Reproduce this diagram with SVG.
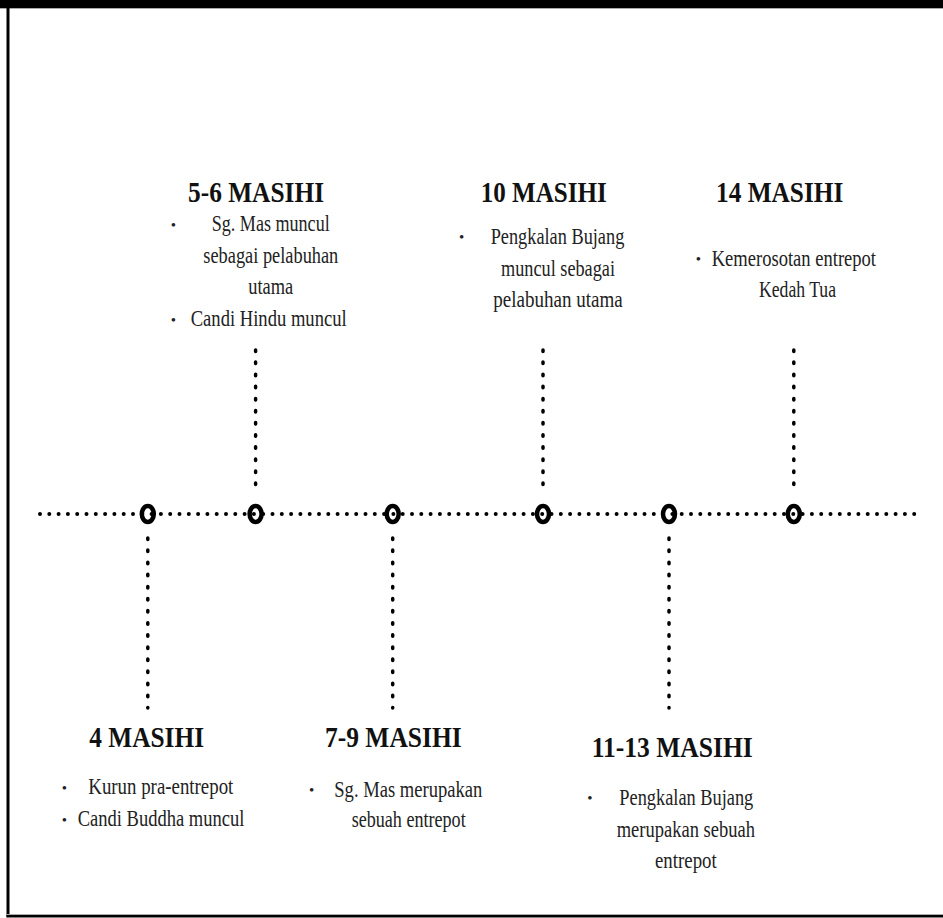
<svg xmlns="http://www.w3.org/2000/svg" width="943" height="918" viewBox="0 0 943 918">
<style>
.h{font-family:"Liberation Serif","Times New Roman",serif;font-weight:bold;font-size:30px;fill:#111}
.t{font-family:"Liberation Serif","Times New Roman",serif;font-size:24px;fill:#222}
.b{font-family:"Liberation Serif","Times New Roman",serif;font-size:15px;fill:#222;text-anchor:middle}
.hl{stroke:#000;stroke-width:4;stroke-linecap:round;stroke-dasharray:0 9.3;fill:none}
.vl{stroke:#000;stroke-width:3.5;stroke-linecap:round;stroke-dasharray:1.5 10.6;fill:none}
.ring{fill:none;stroke:#000;stroke-width:4.5}
</style>
<rect x="0" y="0" width="943" height="918" fill="#fff"/>
<rect x="0" y="0" width="943" height="8" fill="#000"/>
<rect x="0" y="8" width="943" height="1" fill="#aaa"/>
<rect x="6.5" y="0" width="3" height="917" fill="#000"/>
<rect x="6.5" y="914" width="936.5" height="1" fill="#aaa"/>
<rect x="6.5" y="915" width="936.5" height="2.5" fill="#000"/>
<g id="connectors">
<line class="hl" x1="40" y1="514" x2="922" y2="514"/>
<line class="vl" x1="255.6" y1="350" x2="255.6" y2="495"/>
<line class="vl" x1="543" y1="350" x2="543" y2="495"/>
<line class="vl" x1="793.8" y1="350" x2="793.8" y2="495"/>
<line class="vl" x1="147.8" y1="538" x2="147.8" y2="708"/>
<line class="vl" x1="392.7" y1="538" x2="392.7" y2="708"/>
<line class="vl" x1="669" y1="538" x2="669" y2="708"/>
</g>
<g id="markers">
<ellipse class="ring" cx="147.8" cy="514" rx="6" ry="8"/>
<ellipse class="ring" cx="255.6" cy="514" rx="6" ry="8"/>
<ellipse class="ring" cx="392.7" cy="514" rx="6" ry="8"/>
<ellipse class="ring" cx="543" cy="514" rx="6" ry="8"/>
<ellipse class="ring" cx="669" cy="514" rx="6" ry="8"/>
<ellipse class="ring" cx="793.8" cy="514" rx="6" ry="8"/>
</g>
<g id="node-5-6">
<text class="h" x="188" y="202" textLength="136" lengthAdjust="spacingAndGlyphs">5-6 MASIHI</text>
<text class="b" x="173.5" y="230">•</text>
<text class="t" x="211.7" y="231" textLength="118" lengthAdjust="spacingAndGlyphs">Sg. Mas muncul</text>
<text class="t" x="203.3" y="262.5" textLength="135" lengthAdjust="spacingAndGlyphs">sebagai pelabuhan</text>
<text class="t" x="248.3" y="294" textLength="45" lengthAdjust="spacingAndGlyphs">utama</text>
<text class="b" x="173.5" y="325">•</text>
<text class="t" x="190.7" y="326" textLength="156" lengthAdjust="spacingAndGlyphs">Candi Hindu muncul</text>
</g>
<g id="node-10">
<text class="h" x="480.7" y="202" textLength="126" lengthAdjust="spacingAndGlyphs">10 MASIHI</text>
<text class="b" x="461.7" y="242">•</text>
<text class="t" x="490.7" y="244" textLength="133.6" lengthAdjust="spacingAndGlyphs">Pengkalan Bujang</text>
<text class="t" x="501" y="275.5" textLength="114" lengthAdjust="spacingAndGlyphs">muncul sebagai</text>
<text class="t" x="493.3" y="307" textLength="129.4" lengthAdjust="spacingAndGlyphs">pelabuhan utama</text>
</g>
<g id="node-14">
<text class="h" x="716" y="202" textLength="127.3" lengthAdjust="spacingAndGlyphs">14 MASIHI</text>
<text class="b" x="698.3" y="264">•</text>
<text class="t" x="711.7" y="266" textLength="164.3" lengthAdjust="spacingAndGlyphs">Kemerosotan entrepot</text>
<text class="t" x="759" y="297" textLength="77" lengthAdjust="spacingAndGlyphs">Kedah Tua</text>
</g>
<g id="node-4">
<text class="h" x="89.3" y="747" textLength="114.7" lengthAdjust="spacingAndGlyphs">4 MASIHI</text>
<text class="b" x="64.3" y="793">•</text>
<text class="t" x="88.3" y="794" textLength="145" lengthAdjust="spacingAndGlyphs">Kurun pra-entrepot</text>
<text class="b" x="64.3" y="825">•</text>
<text class="t" x="77.7" y="826" textLength="166.6" lengthAdjust="spacingAndGlyphs">Candi Buddha muncul</text>
</g>
<g id="node-7-9">
<text class="h" x="325" y="747" textLength="136.7" lengthAdjust="spacingAndGlyphs">7-9 MASIHI</text>
<text class="b" x="311.7" y="795">•</text>
<text class="t" x="334.3" y="797" textLength="148" lengthAdjust="spacingAndGlyphs">Sg. Mas merupakan</text>
<text class="t" x="351.7" y="827" textLength="114" lengthAdjust="spacingAndGlyphs">sebuah entrepot</text>
</g>
<g id="node-11-13">
<text class="h" x="591.7" y="757" textLength="161" lengthAdjust="spacingAndGlyphs">11-13 MASIHI</text>
<text class="b" x="590" y="803">•</text>
<text class="t" x="619.3" y="805" textLength="134" lengthAdjust="spacingAndGlyphs">Pengkalan Bujang</text>
<text class="t" x="616.7" y="836.5" textLength="138.3" lengthAdjust="spacingAndGlyphs">merupakan sebuah</text>
<text class="t" x="655" y="868" textLength="61.7" lengthAdjust="spacingAndGlyphs">entrepot</text>
</g>
</svg>
